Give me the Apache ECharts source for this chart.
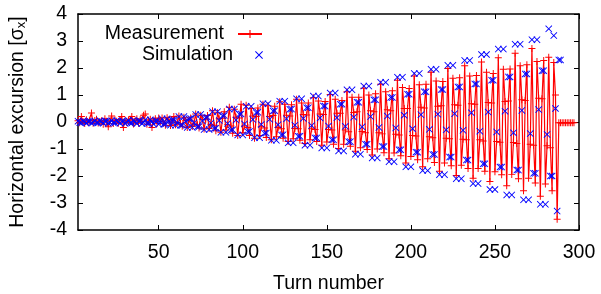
<!DOCTYPE html>
<html>
<head>
<meta charset="utf-8">
<script src="https://cdn.jsdelivr.net/npm/echarts@6/dist/echarts.min.js"></script>
<style>
  html, body { margin: 0; padding: 0; background: #fff; }
  #main { width: 601px; height: 294px; }
</style>
</head>
<body>
<div id="main"></div>
<script>
// turn numbers start here, one value per turn
const measFirstTurn = 2;
const simFirstTurn = 2;

const measured = [
  0.05, -0.03, 0.2, 0.02, -0.06, 0.08, -0.02, 0.04, 0.33, -0.05,
  0.06, 0.1, -0.04, 0.02, 0.05, -0.08, 0.12, 0.03, -0.18, 0.04,
  0.22, -0.06, 0.07, 0.03, -0.05, 0.09, 0.2, -0.2, 0.05, -0.02,
  0.06, 0.1, 0.2, -0.07, 0.04, 0.12, -0.05, 0.08, 0.02, 0.25,
  0.3, -0.08, 0.06, 0.1, -0.2, 0.05, 0.12, -0.06, 0.15, 0.02,
  0.15, -0.05, -0.12, 0.16, 0.08, -0.13, 0.05, 0.2, -0.1, -0.02,
  0.22, -0.06, -0.16, 0.18, 0.05, -0.2, 0.08, 0.15, -0.17, -0.04,
  0.3, -0.1, -0.22, 0.25, 0.1, -0.26, 0.1, 0.24, -0.24, -0.08,
  0.42, -0.12, -0.32, 0.34, 0.12, -0.38, 0.14, 0.38, -0.3, -0.1,
  0.55, -0.15, -0.42, 0.47, 0.18, -0.5, 0.15, 0.66, -0.4, -0.15,
  0.62, -0.2, -0.5, 0.5, 0.22, -0.6, 0.2, 0.52, -0.5, -0.18,
  0.66, -0.22, -0.57, 0.6, 0.2, -0.66, 0.24, 0.58, -0.55, -0.2,
  0.75, -0.25, -0.6, 0.66, 0.25, -0.72, 0.22, 0.64, -0.62, -0.24,
  0.84, -0.25, -0.68, 0.7, 0.28, -0.8, 0.26, 0.7, -0.66, -0.25,
  0.9, -0.28, -0.72, 0.78, 0.3, -0.86, 0.28, 0.76, -0.74, -0.28,
  1.02, -0.3, -0.82, 0.84, 0.32, -0.98, 0.32, 0.8, -0.82, -0.3,
  1.12, -0.36, -0.9, 0.92, 0.35, -1.08, 0.38, 0.92, -0.95, -0.35,
  1.25, -0.4, -1.02, 1.0, 0.42, -1.22, 0.38, 1.05, -1.0, -0.4,
  1.4, -0.44, -1.14, 1.12, 0.45, -1.36, 0.42, 1.16, -1.15, -0.45,
  1.55, -0.48, -1.25, 1.28, 0.5, -1.52, 0.5, 1.24, -1.28, -0.5,
  1.7, -0.52, -1.4, 1.38, 0.55, -1.66, 0.52, 1.4, -1.36, -0.55,
  1.84, -0.58, -1.5, 1.52, 0.58, -1.82, 0.6, 1.5, -1.52, -0.6,
  1.98, -0.62, -1.62, 1.62, 0.64, -1.98, 0.62, 1.64, -1.6, -0.64,
  2.08, -0.66, -1.72, 1.7, 0.68, -2.08, 0.66, 1.72, -1.72, -0.66,
  2.22, -0.7, -1.82, 1.84, 0.72, -2.2, 0.7, 1.8, -1.84, -0.72,
  2.38, -0.75, -1.95, 1.95, 0.76, -2.36, 0.78, 1.96, -1.94, -0.76,
  2.55, -0.8, -2.1, 2.08, 0.82, -2.55, 0.8, 2.12, -2.08, -0.82,
  2.72, -0.86, -2.26, 2.24, 0.88, -2.75, 0.86, 2.28, -2.3, -0.88,
  2.4, -0.95, -2.55, 2.2, 1.0, -3.6,
  -0.03, -0.03, -0.03, -0.03, -0.03, -0.03, -0.03, -0.03, -0.03, -0.03
];

const simulated = [
  0.03, -0.02, -0.03, 0.04, 0.01, -0.04, 0.02, 0.03, -0.04, -0.01,
  0.04, -0.03, -0.03, 0.05, 0.01, -0.05, 0.03, 0.03, -0.05, -0.01,
  0.05, -0.03, -0.03, 0.05, 0.01, -0.05, 0.03, 0.03, -0.05, -0.01,
  0.06, -0.04, -0.04, 0.06, 0.01, -0.06, 0.04, 0.04, -0.06, -0.01,
  0.08, -0.05, -0.05, 0.08, 0.01, -0.08, 0.05, 0.05, -0.08, -0.01,
  0.12, -0.08, -0.07, 0.12, 0.02, -0.12, 0.07, 0.08, -0.12, -0.02,
  0.2, -0.12, -0.12, 0.2, 0.03, -0.2, 0.12, 0.13, -0.2, -0.03,
  0.28, -0.18, -0.17, 0.28, 0.04, -0.28, 0.17, 0.18, -0.28, -0.04,
  0.38, -0.24, -0.23, 0.38, 0.06, -0.38, 0.23, 0.24, -0.38, -0.06,
  0.48, -0.3, -0.29, 0.48, 0.07, -0.48, 0.29, 0.3, -0.48, -0.07,
  0.58, -0.36, -0.35, 0.58, 0.09, -0.58, 0.35, 0.36, -0.58, -0.09,
  0.68, -0.42, -0.41, 0.68, 0.1, -0.68, 0.41, 0.42, -0.68, -0.1,
  0.77, -0.48, -0.47, 0.77, 0.12, -0.77, 0.47, 0.48, -0.77, -0.12,
  0.86, -0.53, -0.53, 0.86, 0.13, -0.86, 0.53, 0.53, -0.86, -0.13,
  0.96, -0.59, -0.59, 0.96, 0.15, -0.96, 0.59, 0.59, -0.96, -0.15,
  1.07, -0.66, -0.66, 1.07, 0.16, -1.07, 0.66, 0.66, -1.07, -0.16,
  1.19, -0.73, -0.73, 1.19, 0.18, -1.19, 0.73, 0.73, -1.19, -0.18,
  1.33, -0.82, -0.82, 1.33, 0.2, -1.33, 0.82, 0.82, -1.33, -0.2,
  1.47, -0.91, -0.91, 1.47, 0.22, -1.47, 0.91, 0.91, -1.47, -0.22,
  1.66, -1.03, -1.03, 1.66, 0.25, -1.66, 1.03, 1.03, -1.66, -0.25,
  1.8, -1.12, -1.12, 1.8, 0.27, -1.8, 1.12, 1.12, -1.8, -0.27,
  1.95, -1.2, -1.2, 1.95, 0.29, -1.95, 1.2, 1.2, -1.95, -0.29,
  2.1, -1.3, -1.3, 2.1, 0.31, -2.1, 1.3, 1.3, -2.1, -0.31,
  2.28, -1.41, -1.41, 2.28, 0.34, -2.28, 1.41, 1.41, -2.28, -0.34,
  2.5, -1.55, -1.55, 2.5, 0.37, -2.5, 1.55, 1.55, -2.5, -0.37,
  2.7, -1.67, -1.67, 2.7, 0.4, -2.7, 1.67, 1.67, -2.7, -0.4,
  2.88, -1.78, -1.78, 2.88, 0.43, -2.88, 1.78, 1.78, -2.88, -0.43,
  3.05, -1.9, -1.9, 3.05, 0.46, -3.05, 1.9, 1.9, -3.05, -0.46,
  3.45, -2.0, -2.0, 3.2, 0.5, -3.3, 2.3, 2.3
];

const xTicks = [50, 100, 150, 200, 250, 300];

const font = "'Liberation Sans', Arial, sans-serif";
const fs = 19.5;
const plusPath = "path://M-1,-0.14L1,-0.14L1,0.14L-1,0.14Z M-0.14,-1L0.14,-1L0.14,1L-0.14,1Z";
const crossPath = "path://M-1,-0.82L-0.82,-1L0,-0.18L0.82,-1L1,-0.82L0.18,0L1,0.82L0.82,1L0,0.18L-0.82,1L-1,0.82L-0.18,0Z";

const chart = echarts.init(document.getElementById("main"), null, { renderer: "canvas" });

const frame = { show: true, onZero: false, lineStyle: { color: "#000", width: 1.5 } };
const tickIn = { show: true, inside: true, length: 5, lineStyle: { color: "#000", width: 1 } };

const options = {
  animation: false,
  textStyle: { fontFamily: font },
  grid: { left: 78, right: 22, top: 14, bottom: 64, containLabel: false, outerBoundsMode: "none" },
  legend: [
    {
      data: ["Measurement"],
      orient: "vertical",
      align: "right",
      right: 333,
      top: 19,
      itemWidth: 24,
      itemHeight: 10,
      textStyle: { fontSize: fs, fontFamily: font, color: "#000", padding: [0, 9, 0, 0] },
    },
    {
      data: ["Simulation"],
      orient: "vertical",
      align: "right",
      right: 333,
      top: 40,
      itemWidth: 24,
      itemHeight: 8,
      textStyle: { fontSize: fs, fontFamily: font, color: "#000", padding: [0, 9, 0, 0] },
    },
  ],
  xAxis: [
    {
      type: "value",
      min: 2,
      max: 300,
      position: "bottom",
      name: "Turn number",
      nameLocation: "middle",
      nameGap: 44,
      nameTextStyle: { fontSize: fs, color: "#000", fontFamily: font },
      axisLine: frame,
      axisTick: { ...tickIn, customValues: xTicks },
      axisLabel: { customValues: xTicks, fontSize: fs, color: "#000", margin: 13, fontFamily: font },
      splitLine: { show: false },
    },
    {
      type: "value",
      min: 2,
      max: 300,
      position: "top",
      axisLine: frame,
      axisTick: { ...tickIn, customValues: xTicks },
      axisLabel: { show: false },
      splitLine: { show: false },
    },
  ],
  yAxis: [
    {
      type: "value",
      min: -4,
      max: 4,
      interval: 1,
      position: "left",
      name: "Horizontal excursion [σ{sub|x}]",
      nameLocation: "middle",
      nameGap: 50,
      nameTextStyle: {
        fontSize: fs,
        color: "#000",
        fontFamily: font,
        rich: { sub: { fontSize: 13, fontFamily: font, color: "#000", padding: [6, 0, 0, 0] } },
      },
      axisLine: frame,
      axisTick: tickIn,
      axisLabel: { fontSize: fs, color: "#000", margin: 11, fontFamily: font },
      splitLine: { show: false },
    },
    {
      type: "value",
      min: -4,
      max: 4,
      interval: 1,
      position: "right",
      axisLine: frame,
      axisTick: tickIn,
      axisLabel: { show: false },
      splitLine: { show: false },
    },
  ],
  series: [
    {
      name: "Measurement",
      type: "line",
      data: measured.map((v, i) => [measFirstTurn + i, v]),
      symbol: plusPath,
      symbolSize: 7,
      showAllSymbol: true,
      lineStyle: { color: "#ff0000", width: 1.2 },
      itemStyle: { color: "#ff0000" },
      z: 2,
    },
    {
      name: "Simulation",
      type: "scatter",
      data: simulated.map((v, i) => [simFirstTurn + i, v]),
      symbol: crossPath,
      symbolSize: 7,
      itemStyle: { color: "#0000ff", opacity: 1 },
      z: 3,
    },
  ],
};

chart.setOption(options);
</script>
</body>
</html>
